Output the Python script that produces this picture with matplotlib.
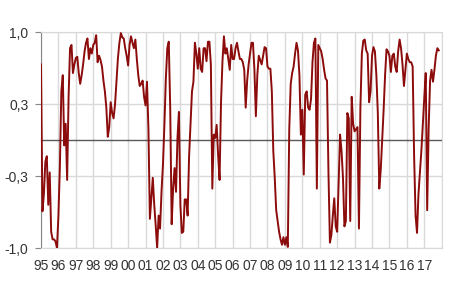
import numpy as np
import matplotlib
matplotlib.use('Agg')
import matplotlib.pyplot as plt

# monthly values, Jan 1995 - Nov 2017
v1995 = [0.70, -0.66, -0.50, -0.20, -0.15, -0.60, -0.30, -0.85, -0.92, -0.92, -0.94, -1.00]
v1996 = [-0.70, -0.25, 0.45, 0.60, -0.05, 0.15, -0.37, 0.40, 0.85, 0.88, 0.62, 0.70]
v1997 = [0.76, 0.77, 0.62, 0.52, 0.60, 0.70, 0.82, 0.90, 0.94, 0.75, 0.85, 0.80]
v1998 = [0.88, 0.90, 0.97, 0.72, 0.78, 0.74, 0.68, 0.55, 0.45, 0.30, 0.03, 0.12]
v1999 = [0.35, 0.25, 0.20, 0.33, 0.55, 0.76, 0.90, 0.99, 0.95, 0.94, 0.85, 0.78]
v2000 = [0.69, 0.88, 0.96, 0.90, 0.85, 0.93, 0.75, 0.60, 0.50, 0.52, 0.55, 0.40]
v2001 = [0.32, 0.54, 0.10, -0.73, -0.54, -0.35, -0.60, -0.79, -1.00, -0.70, -0.82, -0.48]
v2002 = [-0.23, 0.14, 0.57, 0.85, 0.91, 0.30, -0.78, -0.45, -0.26, -0.48, 0.02, 0.26]
v2003 = [-0.60, -0.86, -0.85, -0.55, -0.55, -0.70, -0.15, 0.15, 0.45, 0.54, 0.90, 0.80]
v2004 = [0.66, 0.85, 0.66, 0.63, 0.85, 0.85, 0.73, 0.91, 0.91, 0.70, -0.45, 0.05]
v2005 = [0.02, 0.14, -0.14, -0.37, 0.35, 0.73, 0.96, 0.80, 0.85, 0.75, 0.65, 0.88]
v2006 = [0.75, 0.75, 0.85, 0.90, 0.82, 0.75, 0.75, 0.72, 0.65, 0.30, 0.55, 0.70]
v2007 = [0.80, 0.90, 0.90, 0.65, 0.22, 0.60, 0.78, 0.74, 0.70, 0.78, 0.86, 0.85]
v2008 = [0.68, 0.66, 0.66, 0.45, -0.10, -0.35, -0.65, -0.75, -0.85, -0.92, -0.97, -0.90]
v2009 = [-0.97, -0.90, -0.99, 0.10, 0.52, 0.62, 0.68, 0.80, 0.90, 0.83, 0.60, 0.05]
v2010 = [0.28, -0.32, 0.42, 0.45, 0.30, 0.28, 0.38, 0.72, 0.90, 0.94, -0.45, 0.88]
v2011 = [0.85, 0.82, 0.75, 0.65, 0.57, 0.55, -0.30, -0.95, -0.88, -0.70, -0.54, -0.80]
v2012 = [-0.85, -0.40, 0.05, -0.10, -0.35, -0.80, -0.75, 0.25, 0.20, -0.75, 0.40, 0.15]
v2013 = [0.08, 0.10, 0.12, -0.82, 0.30, 0.80, 0.92, 0.93, 0.83, 0.80, 0.35, 0.45]
v2014 = [0.78, 0.86, 0.82, 0.60, 0.25, -0.45, -0.28, 0.00, 0.28, 0.60, 0.84, 0.82]
v2015 = [0.78, 0.63, 0.78, 0.80, 0.68, 0.63, 0.82, 0.93, 0.85, 0.70, 0.50, 0.65]
v2016 = [0.80, 0.75, 0.72, 0.72, 0.68, -0.15, -0.70, -0.86, -0.50, -0.30, -0.10, 0.15]
v2017 = [0.39, 0.62, -0.65, 0.10, 0.55, 0.65, 0.54, 0.65, 0.78, 0.85, 0.83]

values = (v1995 + v1996 + v1997 + v1998 + v1999 + v2000 + v2001 + v2002 + v2003
          + v2004 + v2005 + v2006 + v2007 + v2008 + v2009 + v2010 + v2011 + v2012
          + v2013 + v2014 + v2015 + v2016 + v2017)
dates = 1995 + np.arange(len(values)) / 12

years = list(range(1995, 2018))
year_labels = ['%02d' % (y % 100) for y in years]
yticks = [-1, -1/3, 1/3, 1]
ytick_labels = ['-1,0', '-0,3', '0,3', '1,0']

plt.rcParams['font.family'] = ['Liberation Sans', 'DejaVu Sans']
plt.rcParams['font.size'] = 10

fig = plt.figure(figsize=(4.5, 2.91), dpi=100)
ax = fig.add_axes([41/450, 1 - 248/291, 400.7/450, 216/291])
ax.set_xlim(1995, 2018)
ax.set_ylim(-1, 1)

# grid
ax.set_xticks(years + [2018])
ax.set_xticklabels(year_labels + [''])
ax.set_yticks(yticks)
ax.set_yticklabels(ytick_labels)
ax.grid(True, color='#d9d9d9', lw=1)
ax.set_axisbelow(True)
for s in ['top', 'right', 'bottom']:
    ax.spines[s].set_color('#d9d9d9')
ax.spines['left'].set_color('#868686')
ax.tick_params(axis='x', length=0, pad=8, colors='#333333')
ax.tick_params(axis='y', length=4, pad=5, color='#868686', labelcolor='#333333')

# zero axis with tick marks
ax.axhline(0, color='#595959', lw=1, zorder=1.5)
sec = ax.secondary_xaxis(0.5)
sec.set_xticks(years)
sec.set_xticklabels([])
sec.tick_params(axis='x', length=3, color='#595959', direction='inout')
sec.spines['bottom'].set_visible(False)
sec.spines['top'].set_visible(False)

ax.plot(dates, values, color='#8c0c0c', lw=1.4, zorder=3)

fig.savefig('out.png', dpi=100)
